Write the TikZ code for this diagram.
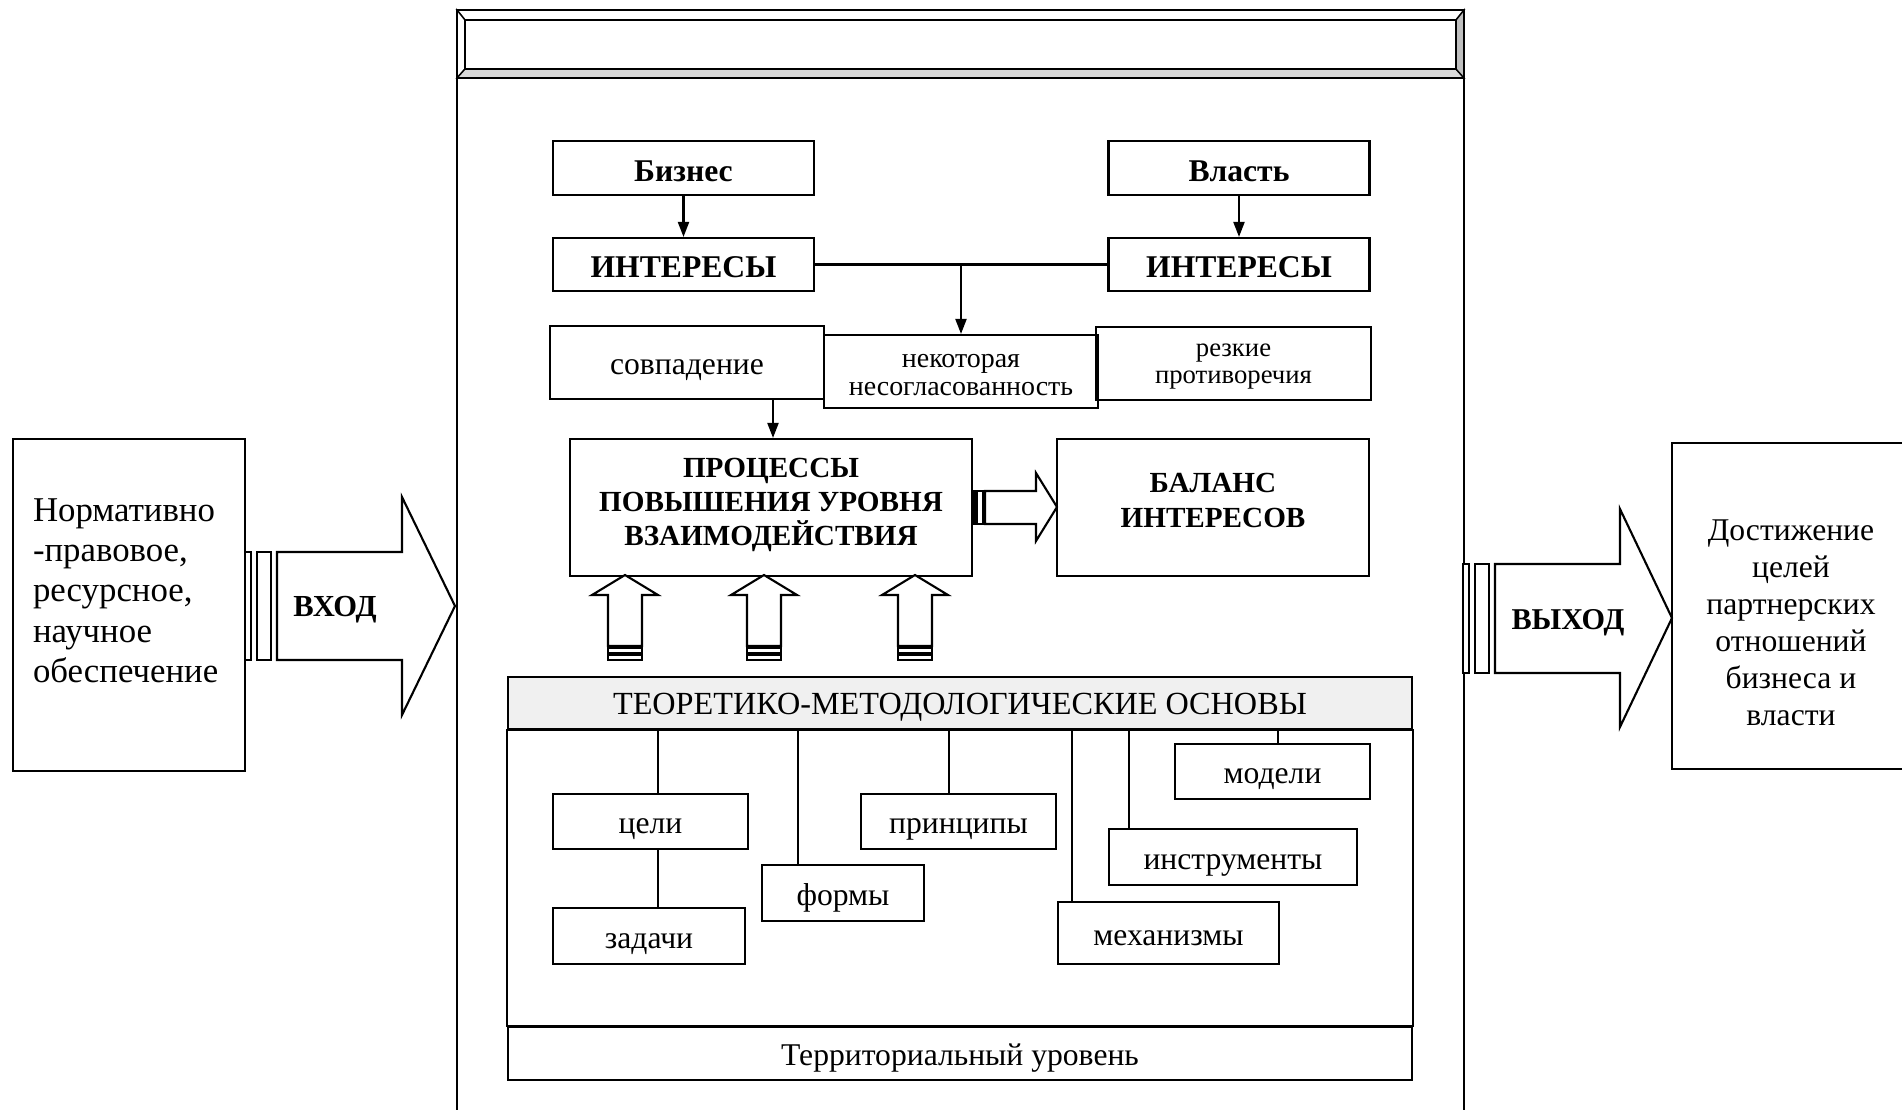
\documentclass[tikz,border=0pt]{standalone}
\usepackage{fontspec}
\setmainfont{Liberation Serif}
\usetikzlibrary{positioning,calc,arrows.meta}

\newcommand\topstrut[1]{\rule{0pt}{#1}}
\newcommand\botstrut[1]{\rule[-#1]{0pt}{#1}}

\tikzset{
    box/.style={draw, line width=0.6pt, rectangle, inner sep=0pt, align=center, font=\fontsize{9}{10.5}\selectfont},
    bbox/.style={box, font=\fontsize{9}{10.5}\selectfont\bfseries},
    sline/.style={text height=7pt, text depth=0pt},
    cline/.style={text height=7.6pt, text depth=0pt},
    link/.style={line width=0.6pt},
    arr/.style={link, -{Triangle[length=1.5mm,width=1.1mm]}},
    blockarr/.style={draw, line width=0.6pt, fill=white},
}

\begin{document}
\begin{tikzpicture}[x=0.1mm,y=-0.1mm]
    \useasboundingbox (0,0) rectangle (1902,1110);

    % Outer frame with bevelled header
    \draw[link] (457,78) -- (457,1110);
    \draw[link] (1464,78) -- (1464,1110);
    \filldraw[fill=white, line width=0.4pt] (457,10) -- (1464,10) -- (1456,20) -- (465,20) -- cycle;
    \filldraw[fill=white, line width=0.4pt] (457,10) -- (465,20) -- (465,69) -- (457,78) -- cycle;
    \filldraw[fill=gray!30, line width=0.4pt] (457,78) -- (465,69) -- (1456,69) -- (1464,78) -- cycle;
    \filldraw[fill=gray!50, line width=0.4pt] (1464,10) -- (1456,20) -- (1456,69) -- (1464,78) -- cycle;
    \draw[line width=0.7pt] (457,10) rectangle (1464,78);
    \draw[line width=0.6pt] (465,20) rectangle (1456,69);

    % Input and output
    \node[box, minimum width=2.32cm, minimum height=3.32cm, text width=1.92cm, align=left,
          font=\fontsize{9.9}{11.4}\selectfont] (norm) at (129,605)
          {Нормативно\\-правовое,\\ресурсное,\\научное\\обеспечение\botstrut{8.2pt}};
    \node[box, minimum width=2.38cm, minimum height=3.26cm, font=\fontsize{9}{10.5}\selectfont] (dost) at (1791,606)
          {\topstrut{15.5pt}Достижение\\целей\\партнерских\\отношений\\бизнеса и\\власти};

    % Interests of both sides
    \node[bbox, cline, minimum width=2.61cm, minimum height=0.54cm] (biz) at (683.5,168) {Бизнес};
    \node[bbox, cline, minimum width=2.61cm, minimum height=0.54cm] (vlast) at (1239,168) {Власть};
    \node[bbox, cline, minimum width=2.61cm, minimum height=0.53cm] (intL) at (683.5,264.5) {ИНТЕРЕСЫ};
    \node[bbox, cline, minimum width=2.61cm, minimum height=0.53cm] (intR) at (1239,264.5) {ИНТЕРЕСЫ};

    \node[box, sline, minimum width=2.74cm, minimum height=0.73cm] (sovp) at (687,362.5) {совпадение};
    \node[box, minimum width=2.74cm, minimum height=0.73cm, font=\fontsize{7.95}{7.9}\selectfont] (nesogl) at (961,371.5)
          {\topstrut{5.7pt}некоторая\\несогласованность};
    \node[box, minimum width=2.75cm, minimum height=0.73cm, font=\fontsize{7.6}{7.6}\selectfont] (rezk) at (1233.5,363.5)
          {\topstrut{5.5pt}резкие\\противоречия};

    \node[bbox, minimum width=4.02cm, minimum height=1.37cm, font=\fontsize{8.3}{9.7}\selectfont\bfseries] (proc) at (771,507.5)
          {ПРОЦЕССЫ\\ПОВЫШЕНИЯ УРОВНЯ\\ВЗАИМОДЕЙСТВИЯ\botstrut{3pt}};
    \node[bbox, minimum width=3.12cm, minimum height=1.37cm, font=\fontsize{8.3}{9.7}\selectfont\bfseries] (bal) at (1213,507.5)
          {БАЛАНС\\ИНТЕРЕСОВ\botstrut{4.1pt}};

    \draw[arr] (biz) -- (intL);
    \draw[arr] (vlast) -- (intR);
    \draw[link] (intL) -- (intR);
    \draw[arr] (intL.east -| nesogl.north) -- (nesogl.north);
    \draw[arr] (sovp.south -| 773,0) -- (proc.north -| 773,0);

    % Theoretical basis
    \node[box, fill=gray!12, text height=6.8pt, text depth=0pt, minimum width=9.04cm, minimum height=0.52cm,
          font=\fontsize{9.17}{10}\selectfont] (osn) at (960,703)
          {ТЕОРЕТИКО-МЕТОДОЛОГИЧЕСКИЕ ОСНОВЫ};
    \node[box, sline, minimum width=9.04cm, minimum height=0.53cm] (terr) at (960,1053.5) {Территориальный уровень};
    \draw[link] (osn.south west) rectangle (terr.north east);

    \node[box, sline, minimum width=1.95cm, minimum height=0.55cm] (celi) at (650.5,821.5) {цели};
    \node[box, sline, minimum width=1.92cm, minimum height=0.56cm] (zad) at (649,936) {задачи};
    \node[box, sline, minimum width=1.62cm, minimum height=0.56cm] (formy) at (843,893) {формы};
    \node[box, sline, minimum width=1.95cm, minimum height=0.55cm] (princ) at (958.5,821.5) {принципы};
    \node[box, sline, minimum width=1.95cm, minimum height=0.55cm] (model) at (1272.5,771.5) {модели};
    \node[box, sline, minimum width=2.48cm, minimum height=0.56cm] (instr) at (1233,857) {инструменты};
    \node[box, sline, minimum width=2.21cm, minimum height=0.62cm] (mech) at (1168.5,933) {механизмы};

    \draw[link] (osn.south -| 658,0) -- (celi.north -| 658,0);
    \draw[link] (celi.south -| 658,0) -- (zad.north -| 658,0);
    \draw[link] (osn.south -| 798,0) -- (formy.north -| 798,0);
    \draw[link] (osn.south -| 949,0) -- (princ.north -| 949,0);
    \draw[link] (osn.south -| 1072,0) -- (mech.north -| 1072,0);
    \draw[link] (osn.south -| 1129,0) -- (instr.north -| 1129,0);
    \draw[link] (osn.south -| 1278,0) -- (model.north -| 1278,0);

    % Block arrows
    \draw[blockarr] (245,552) rectangle (251,660);
    \draw[blockarr] (257,552) rectangle (271,660);
    \draw[blockarr] (277,552) -- (402,552) -- (402,497) -- (455,606) -- (402,715) -- (402,660) -- (277,660) -- cycle;
    \node[font=\fontsize{8.7}{10}\selectfont\bfseries] (vhod) at (335,609.6) {ВХОД};

    \draw[blockarr] (1463,564) rectangle (1469,673);
    \draw[blockarr] (1475,564) rectangle (1489,673);
    \draw[blockarr] (1495,564) -- (1620,564) -- (1620,509) -- (1672,618) -- (1620,727) -- (1620,673) -- (1495,673) -- cycle;
    \node[font=\fontsize{8.6}{10}\selectfont\bfseries] (vyhod) at (1568,622.6) {ВЫХОД};

    \filldraw[line width=0.6pt] (973,491) rectangle (976,524);
    \draw[blockarr] (977,491) rectangle (983,524);
    \draw[blockarr] (985,491) -- (1036,491) -- (1036,473) -- (1057,507) -- (1036,541) -- (1036,524) -- (985,524) -- cycle;

    \foreach \x in {625,764,915} {
        \draw[blockarr] (\x-17,646) -- (\x-17,595) -- (\x-33,595) -- (\x,575) -- (\x+33,595) -- (\x+17,595) -- (\x+17,646) -- cycle;
        \draw[blockarr] (\x-17,648) rectangle (\x+17,653);
        \draw[blockarr] (\x-17,655) rectangle (\x+17,660);
    }
\end{tikzpicture}
\end{document}
